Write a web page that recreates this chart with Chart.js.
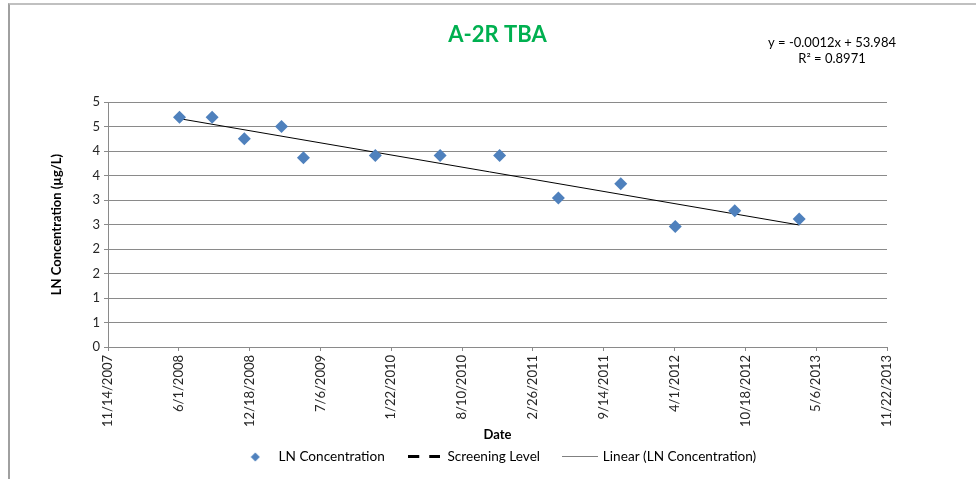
<!DOCTYPE html>
<html>
<head>
<meta charset="utf-8">
<title>A-2R TBA</title>
<script src="https://cdn.jsdelivr.net/npm/chart.js@4.4.0/dist/chart.umd.min.js"></script>
<style>
    html, body { margin: 0; padding: 0; background: #fff; }
    #wrap { position: relative; width: 976px; height: 479px; }
    #frame {
        position: absolute; left: 8px; top: 3px; right: 0; bottom: 0;
        border-top: 2px solid #c0c0c0; border-left: 2px solid #a0a0a0;
        pointer-events: none;
    }
</style>
</head>
<body>
<div id="wrap">
    <canvas id="myChart" width="976" height="479"></canvas>
    <div id="frame"></div>
</div>
<script>
// sample dates and LN concentration
const sampleDates = ['6/3/2008', '9/3/2008', '12/3/2008', '3/18/2009', '5/19/2009', '12/8/2009',
    '6/9/2010', '11/24/2010', '5/9/2011', '11/1/2011', '4/3/2012', '9/18/2012', '3/19/2013'];
const concentration = [4.69, 4.69, 4.25, 4.50, 3.86, 3.91, 3.91, 3.91, 3.04, 3.33, 2.46, 2.78, 2.61];

// excel linear trendline, ends
const trendDates = ['6/3/2008', '3/19/2013'];
const trendValues = [4.66, 2.49];
const equationLines = ['y = -0.0012x + 53.984', 'R\u00B2 = 0.8971'];

// no screening level points are shown
const screeningDates = [];
const screeningValues = [];

const xTickLabels = ['11/14/2007', '6/1/2008', '12/18/2008', '7/6/2009', '1/22/2010', '8/10/2010',
    '2/26/2011', '9/14/2011', '4/1/2012', '10/18/2012', '5/6/2013', '11/22/2013'];
const yTickValues = [0, 0.5, 1, 1.5, 2, 2.5, 3, 3.5, 4, 4.5, 5];
const yTickLabels = ['0', '1', '1', '2', '2', '3', '3', '4', '4', '5', '5'];

const legendNames = ['LN Concentration', 'Screening Level', 'Linear (LN Concentration)'];

const pointColor = '#4F81BD';
const gridColor = '#8a8a8a';
const textColor = '#262626';

// excel style serial day number from m/d/yyyy
function toSerial(s) {
    let p = s.split('/');
    return Date.UTC(+p[2], +p[0] - 1, +p[1]) / 86400000 + 25569;
}

function toPoints(dates, values) {
    return dates.map((d, i) => ({ x: toSerial(d), y: values[i] }));
}

function symbolCanvas(w, h, draw) {
    const c = document.createElement('canvas');
    c.width = w;
    c.height = h;
    draw(c.getContext('2d'));
    return c;
}

const legendSymbols = [
    symbolCanvas(10, 10, g => {
        g.fillStyle = pointColor;
        g.beginPath();
        g.moveTo(5, 0.5); g.lineTo(9.5, 5); g.lineTo(5, 9.5); g.lineTo(0.5, 5);
        g.closePath();
        g.fill();
    }),
    symbolCanvas(32, 4, g => {
        g.fillStyle = '#000';
        g.fillRect(0, 0, 11, 3);
        g.fillRect(21, 0, 11, 3);
    }),
    symbolCanvas(36, 2, g => {
        g.fillStyle = '#808080';
        g.fillRect(0, 0, 36, 1);
    })
];

const trendLabel = {
    id: 'trendLabel',
    afterDraw(chart) {
        const ctx = chart.ctx;
        ctx.save();
        ctx.font = '13px Lato';
        ctx.fillStyle = '#000';
        ctx.textAlign = 'center';
        ctx.textBaseline = 'middle';
        ctx.fillText(equationLines[0], 832, 43);
        ctx.fillText(equationLines[1], 832, 59);
        ctx.restore();
    }
};

Chart.defaults.font.family = 'Lato';
Chart.defaults.color = textColor;

const ctx = document.getElementById('myChart');
new Chart(ctx, {
    type: 'scatter',
    data: {
        datasets: [{
            label: legendNames[0],
            data: toPoints(sampleDates, concentration),
            pointStyle: 'rectRot',
            pointRadius: 6.5,
            pointHoverRadius: 6.5,
            backgroundColor: pointColor,
            borderColor: pointColor,
            borderWidth: 0
        }, {
            label: legendNames[1],
            data: toPoints(screeningDates, screeningValues),
            showLine: true,
            borderColor: '#000',
            borderWidth: 3,
            borderDash: [11, 10],
            pointRadius: 0
        }, {
            label: legendNames[2],
            data: toPoints(trendDates, trendValues),
            showLine: true,
            borderColor: '#000',
            borderWidth: 1,
            pointRadius: 0,
            pointHoverRadius: 0
        }]
    },
    options: {
        responsive: false,
        animation: false,
        events: [],
        layout: {
            padding: { left: 45, right: 89, top: 0, bottom: 5.2 }
        },
        plugins: {
            title: {
                display: true,
                fullSize: false,
                text: 'A-2R TBA',
                color: '#00B050',
                font: { size: 22, weight: 'bold' },
                padding: { top: 21.8, bottom: 53.8 }
            },
            legend: {
                position: 'bottom',
                fullSize: false,
                labels: {
                    usePointStyle: true,
                    pointStyleWidth: 33,
                    padding: 23,
                    color: textColor,
                    font: { size: 13.6 },
                    generateLabels: () => legendNames.map((name, i) => ({
                        text: name,
                        pointStyle: legendSymbols[i],
                        fillStyle: 'transparent',
                        strokeStyle: 'transparent',
                        lineWidth: 0,
                        hidden: false,
                        datasetIndex: i
                    }))
                }
            },
            tooltip: { enabled: false }
        },
        scales: {
            x: {
                type: 'linear',
                min: toSerial(xTickLabels[0]),
                max: toSerial(xTickLabels[xTickLabels.length - 1]),
                afterBuildTicks: scale => {
                    scale.ticks = xTickLabels.map(l => ({ value: toSerial(l) }));
                },
                afterFit: scale => { scale.height = 80.2; },
                ticks: {
                    autoSkip: false,
                    minRotation: 90,
                    maxRotation: 90,
                    padding: 4,
                    font: { size: 13 },
                    color: textColor,
                    callback: (v, i) => xTickLabels[i]
                },
                grid: { drawOnChartArea: false, tickLength: 4, color: gridColor },
                border: { color: gridColor },
                title: {
                    display: true,
                    text: 'Date',
                    color: '#000',
                    font: { size: 13, weight: 'bold' },
                    padding: { top: 0, bottom: -15.6 }
                }
            },
            y: {
                min: 0,
                max: 5,
                afterBuildTicks: scale => {
                    scale.ticks = yTickValues.map(v => ({ value: v }));
                },
                afterFit: scale => { scale.width = 63; },
                ticks: {
                    padding: 4,
                    font: { size: 13 },
                    color: textColor,
                    callback: (v, i) => yTickLabels[i]
                },
                grid: { tickLength: 4, color: gridColor },
                border: { color: gridColor },
                title: {
                    display: true,
                    text: 'LN Concentration (\u00B5g/L)',
                    color: '#000',
                    font: { size: 13, weight: 'bold' },
                    padding: { top: 4, bottom: 0 }
                }
            }
        }
    },
    plugins: [trendLabel]
});
</script>
</body>
</html>
